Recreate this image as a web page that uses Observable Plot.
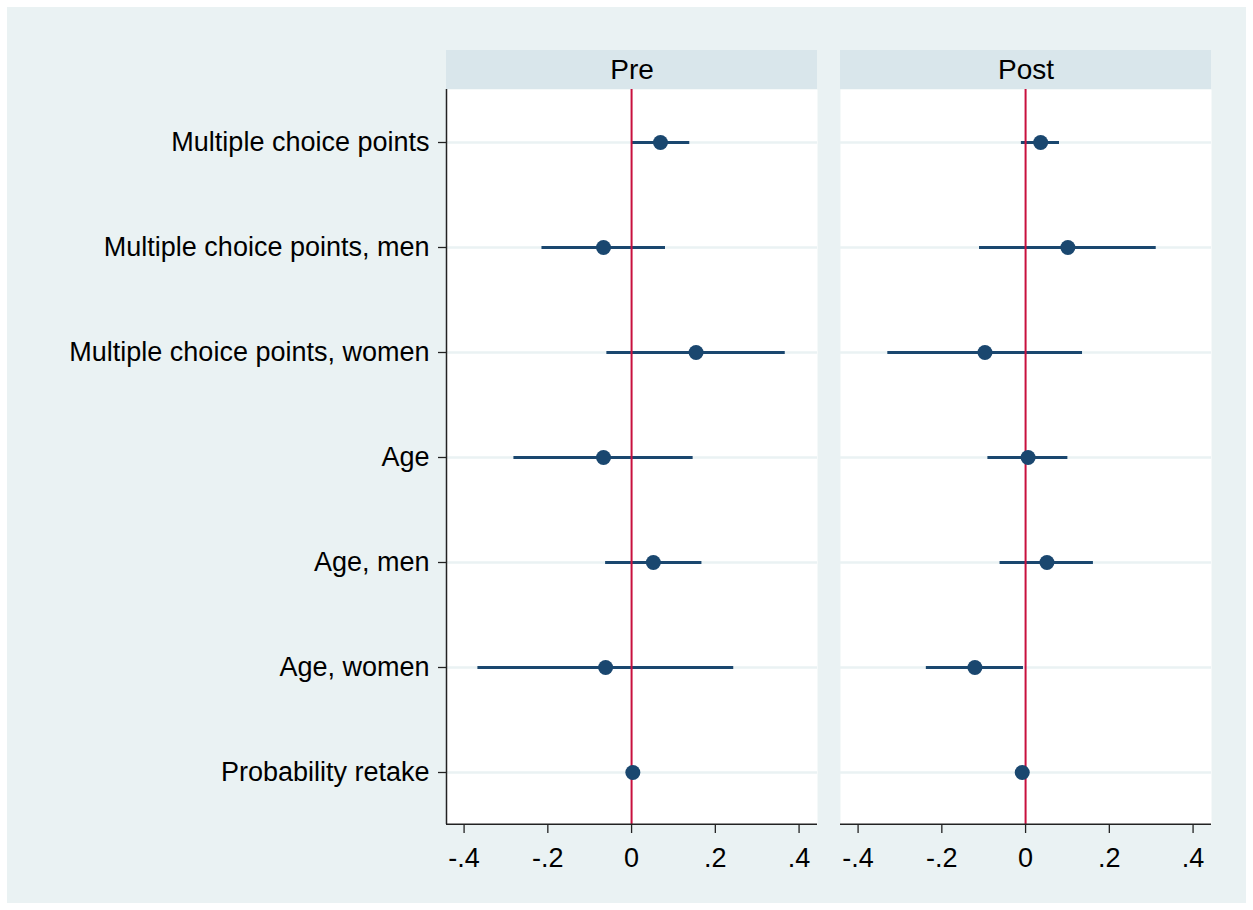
<!DOCTYPE html>
<html>
<head>
<meta charset="utf-8">
<script src="https://cdn.jsdelivr.net/npm/d3@7"></script>
<script src="https://cdn.jsdelivr.net/npm/@observablehq/plot@0.6"></script>
<style>
  html, body { margin: 0; padding: 0; background: #ffffff; }
  #chart { position: absolute; left: 7px; top: 7px; width: 1239px; height: 896px; background: #EAF2F3; }
  #chart svg { display: block; }
</style>
</head>
<body>
<div id="chart"></div>
<script>
const coefs = [
  "Multiple choice points",
  "Multiple choice points, men",
  "Multiple choice points, women",
  "Age",
  "Age, men",
  "Age, women",
  "Probability retake"
];
const panels = ["Pre", "Post"];

const preEst = [0.069, -0.067, 0.154, -0.067, 0.052, -0.062, 0.003];
const preLo  = [0.001, -0.214, -0.059, -0.281, -0.062, -0.367, -0.003];
const preHi  = [0.139, 0.081, 0.367, 0.147, 0.168, 0.244, 0.009];

const postEst = [0.036, 0.101, -0.097, 0.006, 0.051, -0.121, -0.008];
const postLo  = [-0.010, -0.110, -0.329, -0.090, -0.061, -0.237, -0.013];
const postHi  = [0.081, 0.312, 0.136, 0.101, 0.162, -0.005, -0.003];

const xTicks = [-0.4, -0.2, 0, 0.2, 0.4];
const xDomain = [-0.442, 0.444];

const rows = [];
coefs.forEach((c, i) => {
  rows.push({panel: "Pre", coef: c, est: preEst[i], lo: preLo[i], hi: preHi[i]});
  rows.push({panel: "Post", coef: c, est: postEst[i], lo: postLo[i], hi: postHi[i]});
});
const panelRows = panels.map(p => ({panel: p}));

const fmt = d => d === 0 ? "0" : d3.format(".1f")(d).replace("\u2212", "-").replace("0.", ".");

const navy = "#1A476F";
const red = "#C8103E";
const axisColor = "#222";

const plot = Plot.plot({
  width: 1239,
  height: 896,
  marginLeft: 438,
  marginRight: 34,
  marginTop: 82,
  marginBottom: 79,
  style: {
    background: "transparent",
    fontFamily: "'Liberation Sans', Arial, sans-serif",
    fontSize: "27px",
    color: "#000"
  },
  fx: {domain: panels, paddingInner: 0.058, paddingOuter: 0, axis: null},
  x: {domain: xDomain},
  y: {domain: coefs, padding: 0.5},
  marks: [
    Plot.frame({fill: "white", stroke: null}),
    Plot.rect(panelRows, {fx: "panel", x1: xDomain[0], x2: xDomain[1], fill: "#D9E6EB", insetTop: -39, insetBottom: 735}),
    Plot.text(panelRows, {fx: "panel", text: "panel", frameAnchor: "top", dy: -19, lineAnchor: "middle", fontSize: 28, fill: "#000"}),
    Plot.gridY({stroke: "#EAF2F3", strokeOpacity: 1, strokeWidth: 2.5}),
    Plot.ruleY(rows, {fx: "panel", y: "coef", x1: "lo", x2: "hi", stroke: navy, strokeWidth: 2.8}),
    Plot.ruleX([0], {stroke: red, strokeWidth: 2}),
    Plot.dot(rows, {fx: "panel", x: "est", y: "coef", r: 7.5, fill: navy, stroke: null}),
    Plot.ruleX(panelRows.filter(d => d.panel === "Pre"), {fx: "panel", x: xDomain[0], stroke: axisColor, strokeWidth: 1.5}),
    Plot.rect(panelRows, {fx: "panel", x1: xDomain[0], x2: xDomain[1], fill: axisColor, insetTop: 734.5, insetBottom: -1}),
    Plot.axisY({tickSize: 8, tickPadding: 9, label: null, fontSize: 27, stroke: axisColor, strokeWidth: 1.3}),
    Plot.axisX({ticks: xTicks, tickFormat: fmt, tickSize: 9, tickPadding: 14, label: null, fontSize: 27, stroke: axisColor, strokeWidth: 1.3})
  ]
});
document.getElementById("chart").appendChild(plot);
</script>
</body>
</html>
